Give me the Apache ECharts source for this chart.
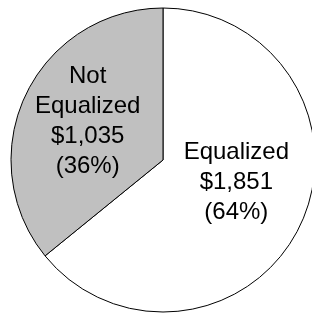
<!DOCTYPE html>
<html>
<head>
<meta charset="utf-8">
<script src="https://cdn.jsdelivr.net/npm/echarts@6/dist/echarts.min.js"></script>
<style>
  html, body { margin: 0; padding: 0; background: #fff; }
  #chart { width: 312px; height: 313px; }
</style>
</head>
<body>
<div id="chart"></div>
<script>
  // slice names and values (dollars)
  var categories = ['Equalized', 'Not Equalized']
  var values = [1851, 1035]
  var colors = ['#ffffff', '#c0c0c0']
  var labelOffsets = [[2, -12], [-4, -5]]

  var chart = echarts.init(document.getElementById('chart'))

  chart.setOption({
    animation: false,
    series: [
      {
        type: 'pie',
        center: [163, 160],
        radius: 152,
        startAngle: 90,
        clockwise: true,
        percentPrecision: 0,
        avoidLabelOverlap: false,
        itemStyle: {
          borderColor: '#000',
          borderWidth: 1
        },
        label: {
          show: true,
          position: 'inside',
          color: '#000',
          fontFamily: 'Liberation Sans, Arial, sans-serif',
          fontSize: 24,
          lineHeight: 30,
          align: 'center',
          formatter: function (p) {
            return p.name.replace(' ', '\n') + '\n$' +
              p.value.toLocaleString('en-US') + '\n(' + p.percent + '%)'
          }
        },
        labelLine: { show: false },
        emphasis: { disabled: true },
        data: categories.map(function (name, i) {
          return {
            name: name,
            value: values[i],
            itemStyle: { color: colors[i] },
            label: { offset: labelOffsets[i] }
          }
        })
      }
    ]
  })
</script>
</body>
</html>
